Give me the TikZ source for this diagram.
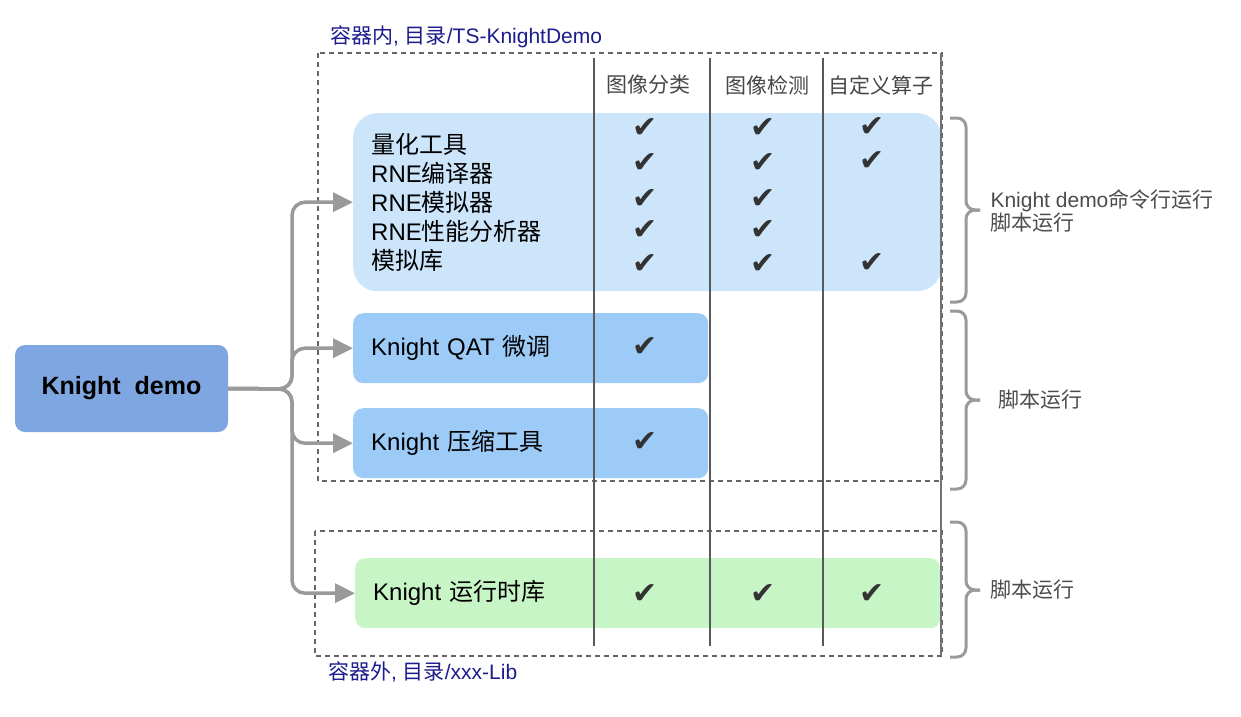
\documentclass[tikz,border=0pt]{standalone}
\usepackage{fontspec}
\setmainfont{Noto Sans CJK SC}
\newfontfamily\lat{Liberation Sans}
\newfontfamily\symb{DejaVu Sans}
\usetikzlibrary{arrows.meta,positioning}

\definecolor{demoblue}{HTML}{7EA6E0}
\definecolor{toolblue}{HTML}{CCE5FB}
\definecolor{itemblue}{HTML}{9DCBF7}
\definecolor{libgreen}{HTML}{C8F5C6}
\definecolor{linkgray}{HTML}{9A9A9A}
\definecolor{dirblue}{HTML}{1C1C8C}
\definecolor{inkgray}{HTML}{333333}

\newcommand{\tick}{{\symb\fontsize{30}{30}\selectfont ✔}}

\begin{document}
\begin{tikzpicture}[x=1pt, y=-1pt, >={Triangle[length=20pt,width=19pt]},
    item/.style={rounded corners=10pt, inner xsep=18pt, inner ysep=0pt,
        align=left, font=\fontsize{24}{29}\selectfont},
    checkmark/.style={text=inkgray, inner sep=0pt},
    header/.style={text=inkgray!90, font=\fontsize{21}{24}\selectfont},
    container/.style={draw=black!60, line width=1.3pt, dash pattern=on 5pt off 4pt},
    colline/.style={draw=black!65, line width=1.5pt},
    link/.style={draw=linkgray, line width=3.5pt, rounded corners=13pt, ->},
    bracket/.style={draw=linkgray, line width=3pt, rounded corners=9pt},
    note/.style={text=black!70, align=left, anchor=west,
        font=\fontsize{21}{23}\selectfont}]

    \useasboundingbox (0,0) rectangle (1241,716);

    % Containers
    \draw[container] (318,53) rectangle (942,481);
    \draw[container] (315,531) rectangle (942,656);
    \node[anchor=south west, inner sep=0pt, text=dirblue,
        font=\fontsize{21}{22}\selectfont] (inlabel) at (330,48)
        {容器内{\lat, }目录{\lat/TS-KnightDemo}};
    \node[anchor=north west, inner sep=0pt, text=dirblue,
        font=\fontsize{21}{22}\selectfont] (outlabel) at (328,661)
        {容器外{\lat, }目录{\lat/xxx-Lib}};

    % Nodes
    \node[rounded corners=10pt, fill=demoblue, minimum width=213pt, minimum height=87pt,
        font=\lat\bfseries\fontsize{25}{25}\selectfont] (demo) at (121.5,388.5)
        {Knight\ \ demo};
    \node[item, fill=toolblue, rounded corners=24pt, text width=552pt,
        minimum height=178pt, anchor=north west] (tools) at (353,113)
        {量化工具\\{\lat RNE}编译器\\{\lat RNE}模拟器\\{\lat RNE}性能分析器\\模拟库};
    \node[item, fill=itemblue, text width=319pt, minimum height=70pt,
        anchor=north west] (qat) at (353,313) {{\lat Knight QAT} 微调};
    \node[item, fill=itemblue, text width=319pt, minimum height=70pt,
        anchor=north west] (prune) at (353,408) {{\lat Knight} 压缩工具};
    \node[item, fill=libgreen, text width=549pt, minimum height=70pt,
        anchor=north west] (runtime) at (355,558) {{\lat Knight} 运行时库};

    % Columns
    \draw[colline] (594,58) -- (594,646);
    \draw[colline] (710,58) -- (710,646);
    \draw[colline] (823,58) -- (823,646);
    \draw[draw=black!55, line width=1.2pt] (941,53) -- (941,656);
    \node[header] (cls) at (648,85) {图像分类};
    \node[header] (det) at (767,85) {图像检测};
    \node[header] (ops) at (881,85) {自定义算子};

    % Ticks
    \node[checkmark] (t11) at (645,128) {\tick};
    \node[checkmark] (t21) at (645,163) {\tick};
    \node[checkmark] (t31) at (645,199) {\tick};
    \node[checkmark] (t41) at (645,230) {\tick};
    \node[checkmark] (t51) at (645,264) {\tick};
    \node[checkmark] (t12) at (763,128) {\tick};
    \node[checkmark] (t22) at (763,163) {\tick};
    \node[checkmark] (t32) at (763,199) {\tick};
    \node[checkmark] (t42) at (763,230) {\tick};
    \node[checkmark] (t52) at (763,264) {\tick};
    \node[checkmark] (t13) at (872,127) {\tick};
    \node[checkmark] (t23) at (872,161) {\tick};
    \node[checkmark] (t53) at (872,263) {\tick};
    \node[checkmark] (tq) at (645,347) {\tick};
    \node[checkmark] (tp) at (645,442) {\tick};
    \node[checkmark] (tr1) at (645,594) {\tick};
    \node[checkmark] (tr2) at (763,594) {\tick};
    \node[checkmark] (tr3) at (872,594) {\tick};

    % Arrows from the demo
    \coordinate (fork) at (292,389);
    \draw[link] (demo.east) -- (fork) |- (tools.west);
    \draw[link] (demo.east) -- (fork) |- (qat.west);
    \draw[link] (demo.east) -- (fork) |- (prune.west);
    \draw[link] (demo.east) -- (fork) |- (runtime.west);

    % Braces
    \coordinate (tip1) at (980,210);
    \coordinate (tip2) at (980,400);
    \coordinate (tip3) at (980,590);
    \draw[bracket] (950,118) -| (966,210) -- (tip1);
    \draw[bracket] (950,302) -| (966,210) -- (tip1);
    \draw[bracket] (950,311) -| (966,400) -- (tip2);
    \draw[bracket] (950,489) -| (966,400) -- (tip2);
    \draw[bracket] (950,522) -| (966,590) -- (tip3);
    \draw[bracket] (950,657) -| (966,590) -- (tip3);
    \node[note] (run1) at (987,211) {{\lat Knight demo}命令行运行\\脚本运行};
    \node[note] (run2) at (995,400) {脚本运行};
    \node[note] (run3) at (987,590) {脚本运行};

\end{tikzpicture}
\end{document}
